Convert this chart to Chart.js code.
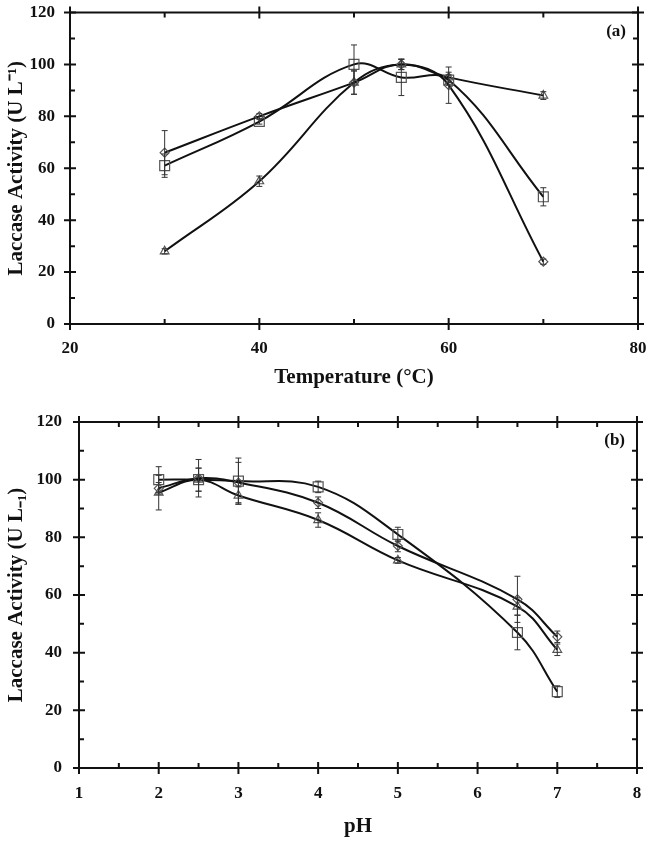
<!DOCTYPE html>
<html>
<head>
<meta charset="utf-8">
<script src="https://cdn.jsdelivr.net/npm/chart.js@4/dist/chart.umd.min.js"></script>
<style>
body{margin:0;background:#fff;width:653px;height:842px;position:relative;overflow:hidden}
.box{position:absolute;left:0;width:653px}
</style>
</head>
<body>
<div class="box" style="top:0;height:400px"><canvas id="tempChart"></canvas></div>
<div class="box" style="top:408px;height:434px"><canvas id="phChart"></canvas></div>
<script>
// (a) temperature
const temps=[30,40,50,55,60,70]
const tempDiamond=[66,80,93,100,92,24]
const tempDiamondErr=[8.5,1,4.5,2,7,1]
const tempSquare=[61,78,100,95,94,49]
const tempSquareErr=[4.5,1,7.5,7,2,3.5]
const tempTriangle=[28,55,93,100,95,88]
const tempTriangleErr=[1,2,4.5,2,2,1.5]

// (b) pH
const phs=[2,2.5,3,4,5,6.5,7]
const phDiamond=[97,100.5,99,92,77,58.5,45.5]
const phDiamondErr=[2,6.5,7,2,2,8,2]
const phSquare=[100,100,99.5,97.5,81,47,26.5]
const phSquareErr=[4.5,4,8,2,2.5,6,2]
const phTriangle=[95.5,100,94.5,86,72,56,41]
const phTriangleErr=[6,4,3,2.5,1,3,2]

const FONT="'Liberation Serif','Times New Roman',serif"
const INK="#111"
const MARK="#555"

function pts(xs,ys){
return xs.map((x,i)=>({x:x,y:ys[i]}))
}

function series(xs,ys,err,style,r){
return {
data:pts(xs,ys),
errors:err,
borderColor:INK,
borderWidth:2,
tension:0.4,
pointStyle:style,
pointRadius:r,
pointBorderColor:MARK,
pointBorderWidth:1.2,
pointBackgroundColor:'rgba(255,255,255,0)'
}
}

const errorBars={
id:'errorBars',
afterDatasetsDraw(chart){
const ctx=chart.ctx
const xs=chart.scales.x, ys=chart.scales.y
ctx.save()
ctx.strokeStyle="#333"
ctx.lineWidth=1
chart.data.datasets.forEach(ds=>{
if(!ds.errors) return
ds.data.forEach((p,j)=>{
let e=ds.errors[j]
if(!e) return
let px=xs.getPixelForValue(p.x)
let t=ys.getPixelForValue(p.y+e)
let b=ys.getPixelForValue(p.y-e)
ctx.beginPath()
ctx.moveTo(px,t);ctx.lineTo(px,b)
ctx.moveTo(px-3,t);ctx.lineTo(px+3,t)
ctx.moveTo(px-3,b);ctx.lineTo(px+3,b)
ctx.stroke()
})
})
ctx.restore()
}
}

// box with ticks on all four sides, majors cross the line, minors inside
const frame={
id:'frame',
afterDraw(chart,args,opts){
const ctx=chart.ctx
const a=chart.chartArea
const xs=chart.scales.x, ys=chart.scales.y
ctx.save()
ctx.strokeStyle=INK
ctx.lineWidth=2
ctx.strokeRect(a.left,a.top,a.right-a.left,a.bottom-a.top)
for(let v=xs.min;v<=xs.max+1e-9;v+=opts.xMinor){
let px=xs.getPixelForValue(v)
let major=Math.abs(v/opts.xMajor-Math.round(v/opts.xMajor))<1e-6
ctx.beginPath()
if(major){
ctx.moveTo(px,a.bottom-6);ctx.lineTo(px,a.bottom+6)
ctx.moveTo(px,a.top-6);ctx.lineTo(px,a.top+6)
}else{
ctx.moveTo(px,a.bottom);ctx.lineTo(px,a.bottom-5)
ctx.moveTo(px,a.top);ctx.lineTo(px,a.top+5)
}
ctx.stroke()
}
for(let v=ys.min;v<=ys.max+1e-9;v+=opts.yMinor){
let py=ys.getPixelForValue(v)
let major=Math.abs(v/opts.yMajor-Math.round(v/opts.yMajor))<1e-6
ctx.beginPath()
if(major){
ctx.moveTo(a.left-6,py);ctx.lineTo(a.left+6,py)
ctx.moveTo(a.right-6,py);ctx.lineTo(a.right+6,py)
}else{
ctx.moveTo(a.left,py);ctx.lineTo(a.left+5,py)
ctx.moveTo(a.right-5,py);ctx.lineTo(a.right,py)
}
ctx.stroke()
}
ctx.font="bold 17px "+FONT
ctx.fillStyle=INK
ctx.textAlign="right"
ctx.textBaseline="middle"
ctx.fillText(opts.tag,a.right-12,a.top+19)
ctx.restore()
}
}

function makeChart(id,sets,xr,yr,xTitle,yTitle,lay){
const tickFont={family:FONT,size:17,weight:'bold'}
const titleFont={family:FONT,size:21,weight:'bold'}
return new Chart(document.getElementById(id),{
type:'line',
data:{datasets:sets},
options:{
responsive:true,
maintainAspectRatio:false,
animation:false,
layout:{padding:{top:lay.top,right:lay.right,left:0,bottom:0}},
plugins:{
legend:{display:false},
tooltip:{enabled:false},
frame:{xMajor:xr.major,xMinor:xr.minor,yMajor:20,yMinor:10,tag:lay.tag}
},
scales:{
x:{
type:'linear',min:xr.min,max:xr.max,
grid:{display:false,drawTicks:false},border:{display:false},
ticks:{stepSize:xr.major,color:INK,font:tickFont,padding:lay.xPad},
title:{display:true,text:xTitle,color:INK,font:titleFont,padding:{top:0,bottom:lay.xTitlePad}},
afterFit(s){s.height=lay.xHeight;s.paddingLeft=0;s.paddingRight=0}
},
y:{
min:yr.min,max:yr.max,
grid:{display:false,drawTicks:false},border:{display:false},
ticks:{stepSize:20,color:INK,font:tickFont,padding:lay.yPad},
title:{display:true,text:yTitle,color:INK,font:titleFont,padding:{top:4,bottom:0}},
afterFit(s){s.width=lay.yWidth;s.paddingTop=0;s.paddingBottom=0}
}
}
},
plugins:[errorBars,frame]
})
}

makeChart('tempChart',[
series(temps,tempDiamond,tempDiamondErr,'rectRot',4.5),
series(temps,tempSquare,tempSquareErr,'rect',7),
series(temps,tempTriangle,tempTriangleErr,'triangle',5)
],{min:20,max:80,major:20,minor:10},{min:0,max:120},
'Temperature (°C)','Laccase Activity (U L\u207B\u00B9)',
{top:12.5,right:15,yWidth:70,xHeight:76,xPad:14,yPad:15,xTitlePad:10,tag:'(a)'})

makeChart('phChart',[
series(phs,phDiamond,phDiamondErr,'rectRot',4.5),
series(phs,phSquare,phSquareErr,'rect',7),
series(phs,phTriangle,phTriangleErr,'triangle',5)
],{min:1,max:8,major:1,minor:0.5},{min:0,max:120},
'pH','Laccase Activity (U L\u208B\u2081)',
{top:14,right:16,yWidth:79,xHeight:74,xPad:15,yPad:17,xTitlePad:3,tag:'(b)'})
</script>
</body>
</html>
